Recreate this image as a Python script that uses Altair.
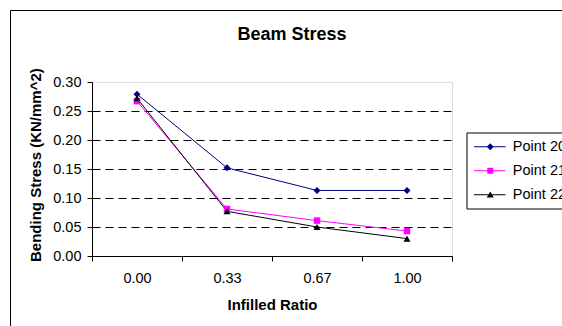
import altair as alt
import pandas as pd

# ---- chart values ----
ratio_labels = ["0.00", "0.33", "0.67", "1.00"]
series_names = ["Point 20", "Point 21", "Point 22"]
point20 = [0.279, 0.152, 0.113, 0.113]
point21 = [0.267, 0.081, 0.061, 0.043]
point22 = [0.272, 0.077, 0.050, 0.030]
y_ticks = [0.00, 0.05, 0.10, 0.15, 0.20, 0.25, 0.30]

# ---- styling ----
series_colors = ["#000080", "#FF00FF", "#000000"]
marker_shapes = ["diamond", "square", "triangle-up"]
marker_sizes = [49, 42, 49]
# legend glyphs: a short line with the series marker on it (unit coords)
legend_paths = [
    "M-1.36,-0.1H4.96V0.1H-1.36Z M1.9,-0.7L2.6,0L1.9,0.7L1.2,0Z",
    "M-1.36,-0.1H4.96V0.1H-1.36Z M1.3,-0.6H2.5V0.6H1.3Z",
    "M-1.36,-0.1H4.96V0.1H-1.36Z M1.9,-0.65L2.6,0.55H1.2Z",
]
FONT = "Liberation Sans"

rows = []
for name, vals in zip(series_names, [point20, point21, point22]):
    for i, (lab, v) in enumerate(zip(ratio_labels, vals)):
        rows.append({"series": name, "idx": i, "ratio": lab, "stress": v})
df = pd.DataFrame(rows)

label_lookup = "[" + ",".join(f"'{l}'" for l in ratio_labels) + "]"
x_enc = alt.X(
    "idx:Q",
    scale=alt.Scale(domain=[-0.5, len(ratio_labels) - 0.5], nice=False, zero=False),
    axis=alt.Axis(
        values=[i - 0.5 for i in range(len(ratio_labels) + 1)],
        labelExpr=f"datum.value < {len(ratio_labels) - 1} ? {label_lookup}[datum.value + 0.5] : ''",
        labelOffset=45,
        labelOverlap=False,
        labelFlush=False,
        labelBound=False,
        labelAlign="center",
        labelBaseline="alphabetic",
        labelPadding=21.8,
        labelFont=FONT,
        labelFontSize=14.5,
        labelColor="#000000",
        tickSize=5,
        tickColor="#000000",
        domainColor="#000000",
        grid=False,
        title="Infilled Ratio",
        titleFont=FONT,
        titleFontSize=15,
        titleFontWeight="bold",
        titleColor="#000000",
        titleBaseline="alphabetic",
        titleY=53,
    ),
)
y_enc = alt.Y(
    "stress:Q",
    scale=alt.Scale(domain=[0, 0.3], nice=False, zero=True),
    axis=alt.Axis(
        values=y_ticks,
        format=".2f",
        labelFont=FONT,
        labelFontSize=14.5,
        labelColor="#000000",
        labelPadding=6,
        labelFlush=False,
        tickSize=5,
        tickColor="#000000",
        domainColor="#000000",
        grid=True,
        gridColor="#000000",
        gridDash=[8, 5],
        gridWidth=1,
        gridOpacity={"condition": {"test": "datum.value > 0.29", "value": 0}, "value": 1},
        title="Bending Stress (KN/mm^2)",
        titleFont=FONT,
        titleFontSize=15,
        titleFontWeight="bold",
        titleColor="#000000",
        titleAngle=270,
        titleAlign="center",
        titleBaseline="alphabetic",
        titleX=-51.3,
        titleY=82.6,
    ),
)

# outer chart frame
frame = alt.Chart(pd.DataFrame({"frame": [0]})).mark_rect(
    filled=False, stroke="#000000", strokeWidth=1
).encode(
    x=alt.value(-81.5), y=alt.value(-71.5), x2=alt.value(700), y2=alt.value(400)
)

lines = []
points = []
for name, color, shp, sz in zip(series_names, series_colors, marker_shapes, marker_sizes):
    sub = alt.Chart(df).transform_filter(alt.datum.series == name)
    lines.append(sub.mark_line(color=color, strokeWidth=1).encode(x=x_enc, y=y_enc))
    points.append(
        sub.mark_point(filled=True, shape=shp, size=sz, color=color, opacity=1, strokeWidth=0)
        .encode(x=x_enc, y=y_enc)
    )

legend_def = alt.Legend(
    orient="none",
    legendX=374.5,
    legendY=50.5,
    title=None,
    padding=7,
    strokeColor="#000000",
    fillColor="#FFFFFF",
    labelFont=FONT,
    labelFontSize=14.5,
    labelColor="#000000",
    labelOffset=24.8,
    labelLimit=0,
    rowPadding=9,
    symbolSize=100,
    symbolStrokeWidth=0,
    symbolOpacity=1,
)
legend_layer = alt.Chart(df).transform_filter("false").mark_point(
    filled=True, size=100, opacity=1, strokeWidth=0
).encode(
    x=x_enc,
    y=y_enc,
    color=alt.Color("series:N", scale=alt.Scale(domain=series_names, range=series_colors), legend=legend_def),
    shape=alt.Shape("series:N", scale=alt.Scale(domain=series_names, range=legend_paths), legend=legend_def),
)

chart = alt.layer(frame, *lines, *points, legend_layer).properties(
    width=360,
    height=174,
    padding={"left": 92, "top": 82, "right": 110, "bottom": 70},
    autosize=alt.AutoSizeParams(type="none"),
    title=alt.TitleParams(
        "Beam Stress",
        font=FONT,
        fontSize=18,
        fontWeight="bold",
        color="#000000",
        anchor="middle",
        baseline="alphabetic",
        dx=20,
        dy=48,
        offset=0,
    ),
).configure_view(
    stroke="#8c8c8c", strokeWidth=1, fill="#FFFFFF"
).configure(background="#FFFFFF")

chart.save("out.html", embed_options={"renderer": "svg", "actions": False})
